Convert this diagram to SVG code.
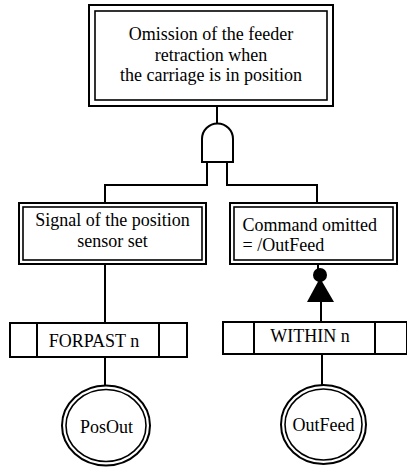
<svg xmlns="http://www.w3.org/2000/svg" width="407" height="470" viewBox="0 0 407 470">
<style>
  .ln { fill: none; stroke: #000; stroke-width: 2; }
  .outer { fill: #fff; stroke: #000; stroke-width: 2; }
  .inner { fill: none; stroke: #000; stroke-width: 1.6; }
  text { font-family: 'Liberation Serif', 'DejaVu Serif', serif; font-size: 18px; fill: #000; }
  .c { text-anchor: middle; }
</style>
<rect width="407" height="470" fill="#fff"/>
<g id="connectors">
  <line class="ln" x1="217" y1="106" x2="217" y2="124"/>
  <polyline class="ln" points="207,162 207,185 105,185 105,203"/>
  <polyline class="ln" points="227,162 227,185 317,185 317,203"/>
  <line class="ln" x1="105" y1="264" x2="105" y2="323"/>
  <line class="ln" x1="105" y1="357" x2="105" y2="386"/>
  <line class="ln" x1="318" y1="264" x2="318" y2="269" stroke-width="1"/>
  <line class="ln" x1="321" y1="300" x2="321" y2="322"/>
  <line class="ln" x1="322" y1="354" x2="322" y2="385"/>
  <circle cx="320" cy="275" r="7" fill="#000"/>
  <polygon points="320,278 307,302 334,302" fill="#000"/>
</g>
<g id="top">
  <rect class="outer" x="89" y="5" width="244" height="101"/>
  <rect class="inner" x="95" y="11" width="232" height="89"/>
  <text class="c" font-family="Liberation Serif, serif" x="211" y="40">Omission of the feeder</text>
  <text class="c" font-family="Liberation Serif, serif" x="211" y="61">retraction when</text>
  <text class="c" font-family="Liberation Serif, serif" x="211" y="81">the carriage is in position</text>
</g>
<g id="and-gate">
  <path class="ln" d="M202,162 L202,139 A15.5,15.5 0 0 1 233,139 L233,162 Z" fill="#fff"/>
</g>
<g id="signal">
  <rect class="outer" x="19" y="203" width="187" height="61"/>
  <rect class="inner" x="23" y="207" width="179" height="53"/>
  <text class="c" font-family="Liberation Serif, serif" x="112.5" y="226">Signal of the position</text>
  <text class="c" font-family="Liberation Serif, serif" x="112.5" y="247">sensor set</text>
</g>
<g id="command">
  <rect class="outer" x="230" y="203" width="167" height="61"/>
  <rect class="inner" x="234" y="207" width="159" height="53"/>
  <text font-family="Liberation Serif, serif" x="242.5" y="231">Command omitted</text>
  <text font-family="Liberation Serif, serif" x="242.5" y="251">= /OutFeed</text>
</g>
<g id="forpast">
  <rect class="outer" x="10" y="323" width="177" height="34"/>
  <line class="ln" x1="37" y1="323" x2="37" y2="357"/>
  <line class="ln" x1="159" y1="323" x2="159" y2="357"/>
  <text class="c" font-family="Liberation Serif, serif" x="94" y="347">FORPAST n</text>
</g>
<g id="within">
  <rect class="outer" x="223" y="322" width="184" height="32"/>
  <line class="ln" x1="254" y1="322" x2="254" y2="354"/>
  <line class="ln" x1="375" y1="322" x2="375" y2="354"/>
  <text class="c" font-family="Liberation Serif, serif" x="310" y="342">WITHIN n</text>
</g>
<g id="posout">
  <ellipse class="outer" cx="106" cy="425.5" rx="44" ry="40" stroke-width="1.5"/>
  <ellipse class="inner" cx="106" cy="425.5" rx="40" ry="36" stroke-width="1.5"/>
  <text class="c" font-family="Liberation Serif, serif" x="106.5" y="433">PosOut</text>
</g>
<g id="outfeed">
  <ellipse class="outer" cx="323.5" cy="424.5" rx="42.5" ry="39.5" stroke-width="1.5"/>
  <ellipse class="inner" cx="323.5" cy="424.5" rx="38.5" ry="35.5" stroke-width="1.5"/>
  <text class="c" font-family="Liberation Serif, serif" x="323.5" y="431">OutFeed</text>
</g>
</svg>
